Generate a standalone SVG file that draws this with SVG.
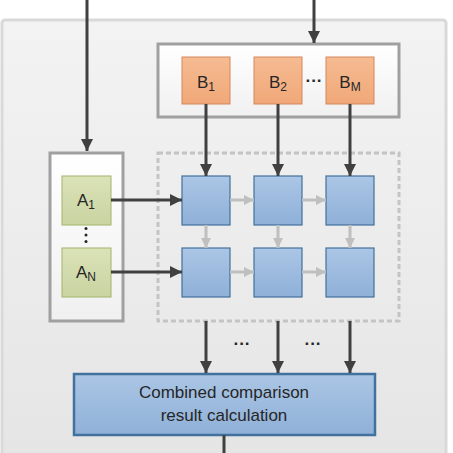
<svg xmlns="http://www.w3.org/2000/svg" width="453" height="453" viewBox="0 0 453 453">
<defs>
<linearGradient id="gPanel" x1="0" y1="0" x2="0" y2="1"><stop offset="0" stop-color="#f3f3f3"/><stop offset="1" stop-color="#e5e5e5"/></linearGradient>
<linearGradient id="gWhite" x1="0" y1="0" x2="0" y2="1"><stop offset="0" stop-color="#ffffff"/><stop offset="1" stop-color="#f0f0f0"/></linearGradient>
<linearGradient id="gOrange" x1="0" y1="0" x2="0" y2="1"><stop offset="0" stop-color="#f6bb92"/><stop offset="1" stop-color="#f0a878"/></linearGradient>
<linearGradient id="gGreen" x1="0" y1="0" x2="0" y2="1"><stop offset="0" stop-color="#dbe2b9"/><stop offset="1" stop-color="#c9d4a0"/></linearGradient>
<linearGradient id="gBlue" x1="0" y1="0" x2="0" y2="1"><stop offset="0" stop-color="#abc6e5"/><stop offset="1" stop-color="#8fb0d8"/></linearGradient>
<marker id="aDark" viewBox="0 0 10 10" refX="10" refY="5" markerWidth="4" markerHeight="4" orient="auto" markerUnits="strokeWidth"><path d="M0,0 L10,5 L0,10 z" fill="#404040"/></marker>
<marker id="aLight" viewBox="0 0 10 10" refX="10" refY="5" markerWidth="3.5" markerHeight="3.5" orient="auto" markerUnits="strokeWidth"><path d="M0,0 L10,5 L0,10 z" fill="#bfbfbf"/></marker>
</defs>
<style>
.panel{fill:url(#gPanel);stroke:#d9d9d9;stroke-width:3}
.cont{fill:url(#gWhite);stroke:#a0a0a0;stroke-width:3}
.dash{fill:none;stroke:#c4c4c4;stroke-width:3;stroke-dasharray:5 3}
.ob{fill:url(#gOrange);stroke:#d4875a;stroke-width:1}
.gb{fill:url(#gGreen);stroke:#a3b46b;stroke-width:1}
.bb{fill:url(#gBlue);stroke:#41719c;stroke-width:1.2}
.rb{fill:url(#gBlue);stroke:#41719c;stroke-width:2.5}
.dk{stroke:#404040;stroke-width:3;fill:none}
.lt{stroke:#bfbfbf;stroke-width:3;fill:none}
text{font-family:"Liberation Sans",Arial,sans-serif;fill:#262626}
.lbl{font-size:17px;text-anchor:middle}
.sub{font-size:12px}
.big{font-size:17px;text-anchor:middle}
.dots{font-size:17px;text-anchor:middle;font-weight:bold}
</style>
<rect class="panel" x="2" y="20" width="444" height="440" rx="3"/>
<g id="b-container"><rect class="cont" x="158" y="44" width="241" height="73"/></g>
<g id="grid-container"><rect class="dash" x="158" y="153" width="241" height="168"/></g>
<g id="a-container"><rect class="cont" x="50" y="153" width="73" height="168"/></g>
<g id="B1"><rect class="ob" x="182" y="57" width="48" height="47"/><text class="lbl" x="206" y="88">B<tspan class="sub" dy="3">1</tspan></text></g>
<g id="B2"><rect class="ob" x="254" y="57" width="48" height="47"/><text class="lbl" x="278" y="88">B<tspan class="sub" dy="3">2</tspan></text></g>
<g id="BM"><rect class="ob" x="326" y="57" width="48" height="47"/><text class="lbl" x="350" y="88">B<tspan class="sub" dy="3">M</tspan></text></g>
<text class="dots" x="314" y="86">···</text>
<g id="A1"><rect class="gb" x="62" y="176" width="49" height="49"/><text class="lbl" x="86" y="206">A<tspan class="sub" dy="3">1</tspan></text></g>
<g id="AN"><rect class="gb" x="62" y="248" width="49" height="49"/><text class="lbl" x="86" y="278">A<tspan class="sub" dy="3">N</tspan></text></g>
<g fill="#262626"><circle cx="86" cy="228.5" r="1.5"/><circle cx="86" cy="235" r="1.5"/><circle cx="86" cy="241.5" r="1.5"/></g>
<g id="c11"><rect class="bb" x="182" y="176" width="48" height="49"/></g>
<g id="c12"><rect class="bb" x="254" y="176" width="48" height="49"/></g>
<g id="c13"><rect class="bb" x="326" y="176" width="48" height="49"/></g>
<g id="c21"><rect class="bb" x="182" y="248" width="48" height="49"/></g>
<g id="c22"><rect class="bb" x="254" y="248" width="48" height="49"/></g>
<g id="c23"><rect class="bb" x="326" y="248" width="48" height="49"/></g>
<g id="result"><rect class="rb" x="74" y="374" width="301" height="61"/><text class="big" x="224" y="398">Combined comparison</text><text class="big" x="224" y="421">result calculation</text></g>
<text class="dots" x="242" y="349">···</text>
<text class="dots" x="313" y="349">···</text>
<g id="connectors">
<line class="dk" x1="87" y1="0" x2="87" y2="151" marker-end="url(#aDark)"/>
<line class="dk" x1="314" y1="0" x2="314" y2="43" marker-end="url(#aDark)"/>
<line class="dk" x1="206" y1="104" x2="206" y2="176" marker-end="url(#aDark)"/>
<line class="dk" x1="278" y1="104" x2="278" y2="176" marker-end="url(#aDark)"/>
<line class="dk" x1="350" y1="104" x2="350" y2="176" marker-end="url(#aDark)"/>
<line class="dk" x1="111" y1="200" x2="182" y2="200" marker-end="url(#aDark)"/>
<line class="dk" x1="111" y1="272" x2="182" y2="272" marker-end="url(#aDark)"/>
<line class="lt" x1="230" y1="200" x2="254" y2="200" marker-end="url(#aLight)"/>
<line class="lt" x1="302" y1="200" x2="326" y2="200" marker-end="url(#aLight)"/>
<line class="lt" x1="230" y1="272" x2="254" y2="272" marker-end="url(#aLight)"/>
<line class="lt" x1="302" y1="272" x2="326" y2="272" marker-end="url(#aLight)"/>
<line class="lt" x1="206" y1="225" x2="206" y2="248" marker-end="url(#aLight)"/>
<line class="lt" x1="278" y1="225" x2="278" y2="248" marker-end="url(#aLight)"/>
<line class="lt" x1="350" y1="225" x2="350" y2="248" marker-end="url(#aLight)"/>
<line class="dk" x1="206" y1="321" x2="206" y2="373" marker-end="url(#aDark)"/>
<line class="dk" x1="278" y1="321" x2="278" y2="373" marker-end="url(#aDark)"/>
<line class="dk" x1="350" y1="321" x2="350" y2="373" marker-end="url(#aDark)"/>
<line class="dk" x1="224" y1="435" x2="224" y2="453"/>
</g>
</svg>
